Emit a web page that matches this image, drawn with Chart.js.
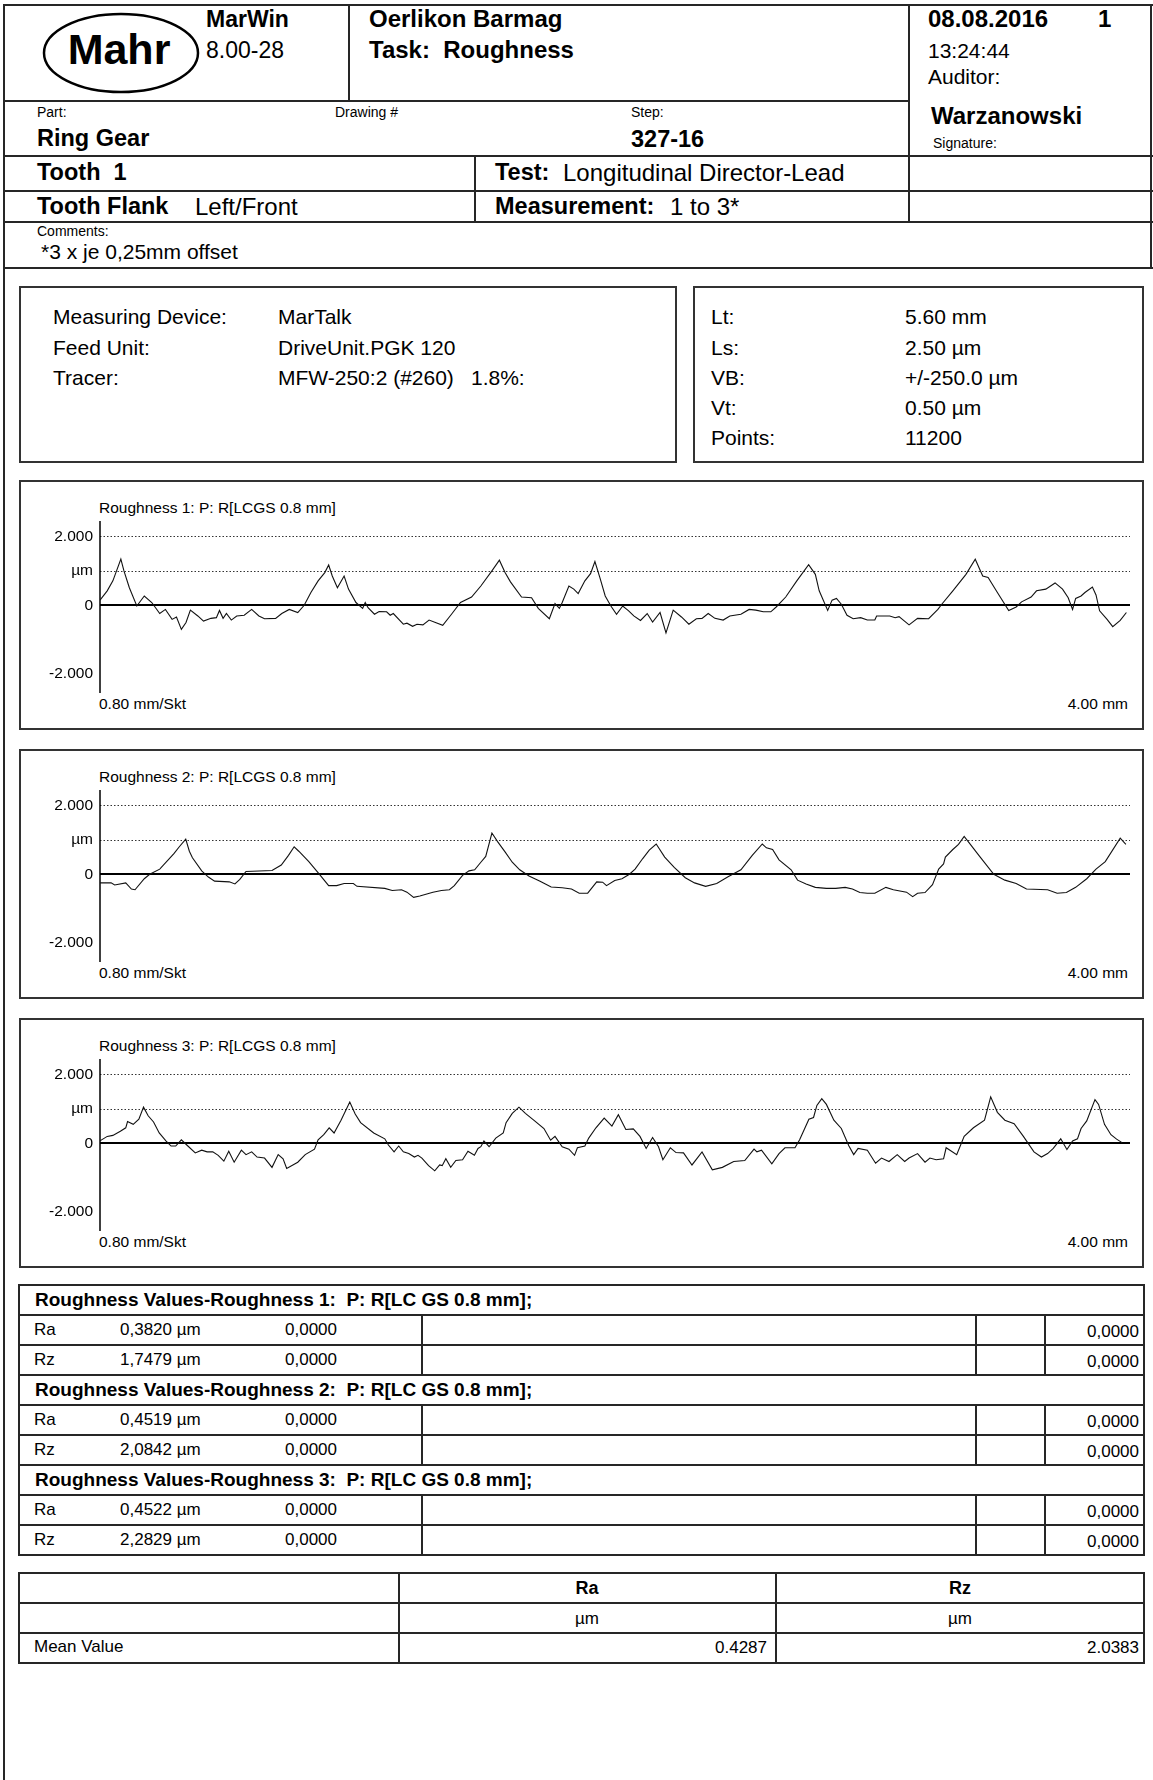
<!DOCTYPE html>
<html><head><meta charset="utf-8">
<script src="https://cdn.jsdelivr.net/npm/chart.js@4.4.0/dist/chart.umd.min.js"></script>
<style>
html,body{margin:0;padding:0;background:#fff;}
body{position:relative;width:1153px;height:1780px;overflow:hidden;font-family:"Liberation Sans",Arial,Helvetica,sans-serif;color:#000;}
.t{position:absolute;white-space:pre;}
.l{position:absolute;background:#262626;}
.box{position:absolute;border:2px solid #333;box-sizing:border-box;}
canvas{position:absolute;}
</style></head><body>
<script>
// ---------------- DATA ----------------
// profile positions in mm, heights in µm
const rough1 = [[0.000,0.15],[0.028,0.42],[0.050,0.71],[0.081,1.34],[0.093,1.00],[0.114,0.51],[0.143,-0.02],[0.172,0.27],[0.201,0.08],[0.232,-0.24],[0.254,-0.12],[0.280,-0.41],[0.297,-0.34],[0.316,-0.70],[0.334,-0.50],[0.351,-0.14],[0.380,-0.31],[0.402,-0.46],[0.431,-0.38],[0.452,-0.36],[0.464,-0.15],[0.478,-0.38],[0.491,-0.24],[0.510,-0.43],[0.531,-0.31],[0.560,-0.29],[0.589,-0.12],[0.617,-0.31],[0.639,-0.39],[0.682,-0.38],[0.706,-0.24],[0.735,-0.12],[0.768,-0.21],[0.793,0.00],[0.819,0.37],[0.847,0.71],[0.873,0.95],[0.888,1.17],[0.902,0.85],[0.922,0.51],[0.948,0.85],[0.965,0.47],[0.994,0.08],[1.020,-0.09],[1.030,0.08],[1.041,-0.07],[1.066,-0.26],[1.084,-0.18],[1.113,-0.19],[1.127,-0.29],[1.139,-0.24],[1.178,-0.55],[1.192,-0.52],[1.214,-0.61],[1.231,-0.55],[1.254,-0.57],[1.278,-0.43],[1.331,-0.58],[1.365,-0.26],[1.400,0.08],[1.443,0.24],[1.479,0.56],[1.522,1.00],[1.551,1.31],[1.573,0.95],[1.594,0.68],[1.637,0.24],[1.676,0.22],[1.702,-0.09],[1.745,-0.39],[1.767,0.05],[1.784,-0.09],[1.795,0.08],[1.821,0.56],[1.840,0.47],[1.857,0.34],[1.883,0.71],[1.905,0.92],[1.922,1.27],[1.941,0.81],[1.962,0.27],[1.984,-0.02],[2.006,-0.26],[2.030,-0.02],[2.053,-0.16],[2.073,-0.31],[2.099,-0.44],[2.125,-0.24],[2.146,-0.49],[2.175,-0.21],[2.198,-0.80],[2.226,-0.14],[2.258,-0.34],[2.287,-0.55],[2.316,-0.39],[2.338,-0.38],[2.362,-0.24],[2.388,-0.38],[2.420,-0.43],[2.446,-0.31],[2.489,-0.26],[2.521,-0.12],[2.547,-0.14],[2.576,-0.19],[2.605,-0.19],[2.626,-0.05],[2.663,0.24],[2.706,0.71],[2.752,1.18],[2.778,0.90],[2.793,0.42],[2.826,-0.15],[2.843,0.15],[2.860,0.20],[2.879,0.03],[2.901,-0.29],[2.925,-0.39],[2.954,-0.36],[2.980,-0.43],[3.009,-0.43],[3.016,-0.31],[3.067,-0.31],[3.088,-0.36],[3.103,-0.33],[3.142,-0.57],[3.175,-0.38],[3.218,-0.39],[3.254,-0.12],[3.269,0.03],[3.312,0.42],[3.363,0.90],[3.399,1.34],[3.428,0.85],[3.449,0.81],[3.485,0.37],[3.529,-0.15],[3.558,-0.05],[3.579,0.10],[3.616,0.24],[3.637,0.42],[3.673,0.47],[3.709,0.65],[3.738,0.47],[3.760,0.22],[3.777,-0.12],[3.789,0.20],[3.810,0.27],[3.825,0.37],[3.854,0.53],[3.868,0.30],[3.882,-0.16],[3.911,-0.41],[3.933,-0.62],[3.962,-0.44],[3.986,-0.21]];
const rough2 = [[0.000,-0.25],[0.043,-0.25],[0.057,-0.31],[0.100,-0.25],[0.122,-0.43],[0.136,-0.45],[0.172,-0.13],[0.193,0.00],[0.232,0.15],[0.287,0.60],[0.308,0.80],[0.333,1.02],[0.347,0.67],[0.359,0.48],[0.395,0.10],[0.421,-0.08],[0.445,-0.20],[0.502,-0.22],[0.524,-0.28],[0.543,-0.15],[0.567,0.08],[0.668,0.11],[0.704,0.27],[0.732,0.55],[0.754,0.80],[0.772,0.67],[0.811,0.37],[0.850,0.02],[0.888,-0.33],[0.919,-0.33],[0.948,-0.27],[0.984,-0.27],[0.998,-0.35],[1.106,-0.41],[1.135,-0.47],[1.171,-0.45],[1.192,-0.52],[1.218,-0.67],[1.242,-0.63],[1.293,-0.52],[1.326,-0.47],[1.357,-0.45],[1.376,-0.33],[1.408,-0.03],[1.433,0.10],[1.455,0.13],[1.479,0.35],[1.498,0.52],[1.522,1.20],[1.544,0.95],[1.573,0.65],[1.601,0.35],[1.630,0.13],[1.666,-0.05],[1.709,-0.20],[1.752,-0.37],[1.795,-0.39],[1.831,-0.43],[1.861,-0.55],[1.894,-0.55],[1.929,-0.22],[1.952,-0.23],[1.967,-0.33],[1.999,-0.18],[2.027,-0.13],[2.056,0.00],[2.078,0.15],[2.107,0.45],[2.133,0.70],[2.160,0.88],[2.193,0.50],[2.230,0.20],[2.273,-0.10],[2.309,-0.25],[2.352,-0.35],[2.395,-0.27],[2.439,-0.07],[2.489,0.13],[2.533,0.55],[2.572,0.88],[2.588,0.77],[2.612,0.72],[2.637,0.42],[2.684,0.13],[2.709,-0.17],[2.742,-0.28],[2.778,-0.38],[2.821,-0.41],[2.857,-0.41],[2.894,-0.38],[2.922,-0.43],[2.951,-0.53],[2.980,-0.55],[3.009,-0.55],[3.052,-0.38],[3.081,-0.45],[3.132,-0.52],[3.156,-0.65],[3.175,-0.55],[3.204,-0.53],[3.233,-0.30],[3.257,0.15],[3.276,0.30],[3.283,0.50],[3.312,0.72],[3.334,0.87],[3.356,1.10],[3.377,0.90],[3.413,0.55],[3.471,0.00],[3.514,-0.17],[3.558,-0.27],[3.598,-0.43],[3.680,-0.45],[3.717,-0.55],[3.753,-0.53],[3.789,-0.38],[3.832,-0.13],[3.868,0.15],[3.904,0.37],[3.962,1.05],[3.984,0.87]];
const rough3 = [[0.000,0.07],[0.028,0.20],[0.050,0.23],[0.079,0.35],[0.100,0.45],[0.107,0.63],[0.129,0.55],[0.151,0.70],[0.169,1.05],[0.187,0.80],[0.208,0.62],[0.230,0.30],[0.256,0.07],[0.276,-0.08],[0.294,-0.08],[0.316,0.10],[0.337,-0.05],[0.370,-0.28],[0.395,-0.20],[0.416,-0.25],[0.438,-0.25],[0.459,-0.35],[0.481,-0.52],[0.500,-0.23],[0.521,-0.55],[0.549,-0.20],[0.567,-0.33],[0.589,-0.25],[0.610,-0.40],[0.639,-0.43],[0.668,-0.70],[0.692,-0.33],[0.711,-0.45],[0.725,-0.73],[0.768,-0.55],[0.797,-0.33],[0.833,-0.17],[0.847,0.10],[0.869,0.25],[0.890,0.45],[0.909,0.30],[0.936,0.67],[0.970,1.20],[0.991,0.85],[1.012,0.60],[1.063,0.30],[1.106,0.13],[1.120,-0.05],[1.142,-0.25],[1.160,-0.08],[1.178,-0.25],[1.199,-0.30],[1.221,-0.40],[1.235,-0.35],[1.250,-0.43],[1.276,-0.65],[1.300,-0.80],[1.319,-0.63],[1.329,-0.65],[1.343,-0.45],[1.362,-0.70],[1.382,-0.50],[1.408,-0.48],[1.429,-0.23],[1.454,-0.35],[1.468,-0.15],[1.479,-0.10],[1.491,0.07],[1.511,-0.10],[1.537,0.15],[1.566,0.30],[1.577,0.60],[1.601,0.87],[1.627,1.05],[1.652,0.87],[1.688,0.65],[1.724,0.43],[1.750,0.09],[1.767,0.20],[1.795,-0.10],[1.821,-0.17],[1.843,-0.35],[1.854,-0.13],[1.883,-0.08],[1.898,0.15],[1.926,0.45],[1.958,0.73],[1.988,0.50],[2.013,0.83],[2.042,0.40],[2.071,0.42],[2.097,0.20],[2.121,-0.15],[2.146,0.17],[2.169,-0.10],[2.186,-0.48],[2.215,-0.13],[2.237,-0.27],[2.266,-0.28],[2.299,-0.63],[2.338,-0.25],[2.378,-0.77],[2.417,-0.70],[2.461,-0.53],[2.504,-0.50],[2.540,-0.17],[2.551,-0.25],[2.569,-0.20],[2.609,-0.60],[2.637,-0.30],[2.660,-0.13],[2.699,-0.13],[2.717,0.10],[2.753,0.70],[2.771,0.75],[2.784,1.10],[2.803,1.30],[2.821,1.13],[2.850,0.67],[2.879,0.43],[2.908,-0.07],[2.927,-0.33],[2.944,-0.15],[2.980,-0.20],[3.012,-0.58],[3.035,-0.43],[3.064,-0.53],[3.096,-0.33],[3.125,-0.53],[3.142,-0.43],[3.175,-0.30],[3.204,-0.55],[3.223,-0.43],[3.247,-0.48],[3.276,-0.45],[3.286,-0.13],[3.327,-0.33],[3.356,0.20],[3.392,0.45],[3.435,0.67],[3.459,1.35],[3.485,0.90],[3.514,0.67],[3.550,0.57],[3.586,0.20],[3.627,-0.25],[3.656,-0.40],[3.680,-0.30],[3.702,-0.15],[3.731,0.13],[3.755,-0.18],[3.777,0.07],[3.796,0.13],[3.810,0.43],[3.832,0.65],[3.864,1.27],[3.878,1.13],[3.901,0.55],[3.926,0.25],[3.948,0.12],[3.969,0.02]];
const profileTitles = ['Roughness 1: P: R[LCGS 0.8 mm]','Roughness 2: P: R[LCGS 0.8 mm]','Roughness 3: P: R[LCGS 0.8 mm]'];
const yTickValues = [-2, 0, 1, 2];
const yTickLabels = ['-2.000', '0', 'µm', '2.000'];
const dottedLevels = [1, 2];
const xStartLabel = '0.80 mm/Skt';
const xEndLabel = '4.00 mm';
const xMin = 0, xMax = 4;
const yMin = -2.55, yMax = 2.45;

const rvTitles = ['Roughness Values-Roughness 1:  P: R[LC GS 0.8 mm];','Roughness Values-Roughness 2:  P: R[LC GS 0.8 mm];','Roughness Values-Roughness 3:  P: R[LC GS 0.8 mm];'];
const rvParams = ['Ra','Rz'];
const rvValues = [['0,3820 µm','1,7479 µm'],['0,4519 µm','2,0842 µm'],['0,4522 µm','2,2829 µm']];
const rvZero = '0,0000';
const meanCols = ['Ra','Rz'];
const meanUnits = ['µm','µm'];
const meanValues = ['0.4287','2.0383'];

// ---------------- HELPERS ----------------
const W = 1153;
function T(x,b,s,txt,o){o=o||{};const d=document.createElement('div');d.className='t';d.textContent=txt;
  d.style.fontSize=s+'px';d.style.lineHeight=s+'px';d.style.top=(b-0.8465*s)+'px';
  if(o.bold)d.style.fontWeight='bold';
  if(o.align==='right'){d.style.right=(W-x)+'px';}
  else if(o.align==='center'){d.style.left=x+'px';d.style.transform='translateX(-50%)';}
  else d.style.left=x+'px';
  document.body.appendChild(d);return d;}
function L(x,y,w,h){const d=document.createElement('div');d.className='l';Object.assign(d.style,{left:x+'px',top:y+'px',width:w+'px',height:h+'px'});document.body.appendChild(d);}
function H(x1,x2,y,w){L(x1,y-w/2,x2-x1,w);}
function V(x,y1,y2,w){L(x-w/2,y1,w,y2-y1);}
function B(x,y,w,h){const d=document.createElement('div');d.className='box';Object.assign(d.style,{left:x+'px',top:y+'px',width:w+'px',height:h+'px'});document.body.appendChild(d);}

// ---------------- HEADER ----------------
const LW = 2;
H(3,W,5,LW);
V(4,4,1780,LW);
V(1151,4,269,LW);
H(4,910,101,LW);
V(349,5,101,LW);
V(909,5,223,LW);
H(4,W,156,LW);
V(475,156,222,LW);
H(4,W,191,LW);
H(4,W,222,LW);
H(4,W,268,LW);

document.body.insertAdjacentHTML('beforeend','<svg style="position:absolute;left:0;top:0" width="240" height="110"><ellipse cx="121" cy="53" rx="77" ry="39" fill="none" stroke="#000" stroke-width="2.5"/></svg>');
T(119,64,43,'Mahr',{bold:1,align:'center'});
T(206,27,23,'MarWin',{bold:1});
T(206,58,23,'8.00-28');
T(369,27,24,'Oerlikon Barmag',{bold:1});
T(369,58,24,'Task:  Roughness',{bold:1});
T(928,27,24,'08.08.2016',{bold:1});
T(1098,27,24,'1',{bold:1});
T(928,58,21,'13:24:44');
T(928,84,21,'Auditor:');
T(37,117,14,'Part:');
T(335,117,14,'Drawing #');
T(631,117,14,'Step:');
T(37,147,23.5,'Ring Gear',{bold:1});
T(631,148,23.5,'327-16',{bold:1});
T(931,124,24,'Warzanowski',{bold:1});
T(933,148,14,'Signature:');
T(37,181,23.5,'Tooth  1',{bold:1});
T(495,181,23.5,'Test:',{bold:1});
T(563,181,24,'Longitudinal Director-Lead');
T(37,215,23.5,'Tooth Flank',{bold:1});
T(195,215,24,'Left/Front');
T(495,215,23.5,'Measurement:',{bold:1});
T(670,215,24,'1 to 3*');
T(37,236,14,'Comments:');
T(41,259,21,'*3 x je 0,25mm offset');

// ---------------- INFO BOXES ----------------
B(19,286,658,177);
B(693,286,451,177);
const infoB = [324,354.5,385,415,444.5];
T(53,infoB[0],21,'Measuring Device:'); T(278,infoB[0],21,'MarTalk');
T(53,infoB[1],21,'Feed Unit:'); T(278,infoB[1],21,'DriveUnit.PGK 120');
T(53,infoB[2],21,'Tracer:'); T(278,infoB[2],21,'MFW-250:2 (#260)'); T(471,infoB[2],21,'1.8%:');
const lbl2=['Lt:','Ls:','VB:','Vt:','Points:'], val2=['5.60 mm','2.50 µm','+/-250.0 µm','0.50 µm','11200'];
lbl2.forEach((s,i)=>{T(711,infoB[i],21,s);T(905,infoB[i],21,val2[i]);});

// ---------------- PROFILE CHARTS ----------------
const refLines = {id:'refLines', beforeDatasetsDraw(chart){
  const {ctx, chartArea:a, scales:{y}} = chart; ctx.save();
  ctx.strokeStyle='#333'; ctx.lineWidth=1; ctx.setLineDash([1.5,2]);
  dottedLevels.forEach(v=>{const py=Math.round(y.getPixelForValue(v))+0.5; ctx.beginPath(); ctx.moveTo(a.left,py); ctx.lineTo(a.right,py); ctx.stroke();});
  ctx.setLineDash([]); ctx.strokeStyle='#000'; ctx.lineWidth=2;
  const z=Math.round(y.getPixelForValue(0)); ctx.beginPath(); ctx.moveTo(a.left,z); ctx.lineTo(a.right,z); ctx.stroke();
  ctx.lineWidth=1.5; ctx.beginPath(); ctx.moveTo(a.left,a.top); ctx.lineTo(a.left,a.bottom); ctx.stroke();
  ctx.restore();}};

const panelTops = [480,749,1018];
const series = [rough1, rough2, rough3];
panelTops.forEach((top,i)=>{
  B(19,top,1125,250);
  T(99,top+33.5,15.5,profileTitles[i]);
  T(99,top+229.5,15.5,xStartLabel);
  T(1128,top+229.5,15.5,xEndLabel,{align:'right'});
  const cv=document.createElement('canvas'); cv.width=1125; cv.height=250;
  Object.assign(cv.style,{left:'19px',top:top+'px',width:'1125px',height:'250px'});
  document.body.appendChild(cv);
  new Chart(cv,{type:'line',
    data:{datasets:[{data:series[i].map(([x,y])=>({x,y})),borderColor:'#111',borderWidth:1.1,pointRadius:0,tension:0,fill:false}]},
    options:{responsive:false,animation:false,devicePixelRatio:1,events:[],
      layout:{padding:{left:0,right:14,top:41,bottom:37}},
      plugins:{legend:{display:false},tooltip:{enabled:false},title:{display:false}},
      scales:{
        x:{type:'linear',min:xMin,max:xMax,display:false},
        y:{type:'linear',min:yMin,max:yMax,position:'left',
           afterBuildTicks:s=>{s.ticks=yTickValues.map(v=>({value:v}));},
           afterFit:s=>{s.width=81;},
           grid:{display:false,drawTicks:false},border:{display:false},
           ticks:{padding:7,color:'#000',autoSkip:false,font:{family:'"Liberation Sans", Arial, sans-serif',size:15.5},
             callback:(v)=>yTickLabels[yTickValues.indexOf(v)]}}}},
    plugins:[refLines]});
});

// ---------------- ROUGHNESS VALUES TABLE ----------------
const t1Top=1285, rowH=30;
for(let i=0;i<=9;i++) H(18,1145,t1Top+i*rowH,2);
V(19,t1Top,t1Top+9*rowH,2); V(1144,t1Top,t1Top+9*rowH,2);
rvTitles.forEach((title,g)=>{
  const gTop=t1Top+g*3*rowH;
  T(35,gTop+21.5,19,title,{bold:1});
  rvParams.forEach((p,k)=>{
    const rt=gTop+(k+1)*rowH;
    [422,976,1045].forEach(x=>V(x,rt,rt+rowH,2));
    T(34,rt+20.5,17,p);
    T(120,rt+20.5,17,rvValues[g][k]);
    T(285,rt+20.5,17,rvZero);
    T(1139,rt+22,17,rvZero,{align:'right'});
  });
});

// ---------------- MEAN VALUE TABLE ----------------
const t2Top=1573;
for(let i=0;i<=3;i++) H(18,1145,t2Top+i*rowH,2);
[19,399,776,1144].forEach(x=>V(x,t2Top,t2Top+3*rowH,2));
const colC=[587,960], colR=[767,1139];
meanCols.forEach((c,i)=>{
  T(colC[i],t2Top+21,18,c,{bold:1,align:'center'});
  T(colC[i],t2Top+rowH+21,17,meanUnits[i],{align:'center'});
  T(colR[i],t2Top+2*rowH+20,17,meanValues[i],{align:'right'});
});
T(34,t2Top+2*rowH+19,17,'Mean Value');
</script>
</body></html>
